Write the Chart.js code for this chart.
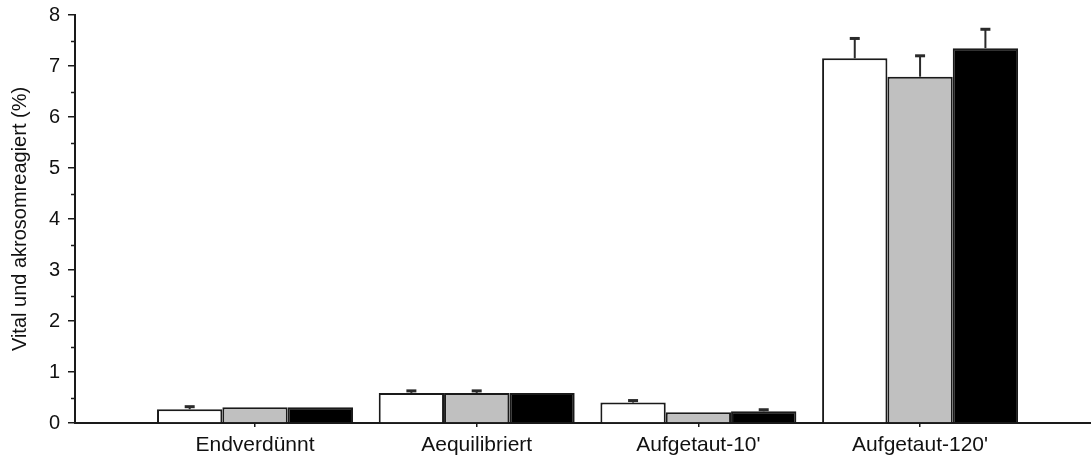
<!DOCTYPE html>
<html>
<head>
<meta charset="utf-8">
<script src="https://cdn.jsdelivr.net/npm/chart.js@4.4.1/dist/chart.umd.min.js"></script>
<style>
  html, body { margin: 0; padding: 0; background: #ffffff; }
  #wrap { width: 1091px; height: 459px; position: relative; }
</style>
</head>
<body>
<div id="wrap"><canvas id="chart"></canvas></div>
<script>
// Groups along the x axis
const categories = ["Endverdünnt", "Aequilibriert", "Aufgetaut-10'", "Aufgetaut-120'"];

// Mean values (%) per series and their upper error (SEM)
const whiteValues = [0.27, 0.59, 0.40, 7.15];
const whiteErrors = [0.05, 0.04, 0.04, 0.39];
const greyValues  = [0.31, 0.59, 0.21, 6.79];
const greyErrors  = [0, 0.04, 0, 0.41];
const blackValues = [0.31, 0.59, 0.23, 7.35];
const blackErrors = [0, 0, 0.03, 0.37];

// Y axis ticks: labelled majors and unlabelled minors
const yMajorTicks = [0, 1, 2, 3, 4, 5, 6, 7, 8];
const yMinorTicks = [0.5, 1.5, 2.5, 3.5, 4.5, 5.5, 6.5, 7.5];

const yTitle = "Vital und akrosomreagiert (%)";

const FONT = '"Liberation Sans", Arial, Helvetica, sans-serif';
const INK = '#1a1a1a';

function points(values) {
  return values.map((v, i) => ({ x: i + 1, y: v }));
}

// Upper error bars with caps, plus minor tick marks on the y axis
const errorBarPlugin = {
  id: 'errorBars',
  afterDatasetsDraw(chart) {
    const ctx = chart.ctx;
    const yScale = chart.scales.y;
    chart.data.datasets.forEach((ds, di) => {
      const meta = chart.getDatasetMeta(di);
      meta.data.forEach((bar, j) => {
        const v = ds.data[j].y;
        const e = ds.errors[j];
        if (!e) return;
        const top = yScale.getPixelForValue(v + e);
        const base = bar.y;
        ctx.save();
        ctx.strokeStyle = '#2a2a2a';
        ctx.lineWidth = 2;
        ctx.beginPath();
        ctx.moveTo(bar.x, base);
        ctx.lineTo(bar.x, top);
        ctx.stroke();
        ctx.lineWidth = 3;
        ctx.beginPath();
        ctx.moveTo(bar.x - 5, top);
        ctx.lineTo(bar.x + 5, top);
        ctx.stroke();
        ctx.restore();
      });
    });
  },
  afterDraw(chart) {
    const ctx = chart.ctx;
    const yScale = chart.scales.y;
    const x0 = chart.chartArea.left;
    ctx.save();
    ctx.strokeStyle = INK;
    ctx.lineWidth = 1.5;
    yMinorTicks.forEach(t => {
      const py = Math.round(yScale.getPixelForValue(t)) + 0.5;
      ctx.beginPath();
      ctx.moveTo(x0 - 4, py);
      ctx.lineTo(x0, py);
      ctx.stroke();
    });
    ctx.restore();
  }
};

new Chart(document.getElementById('chart'), {
  type: 'bar',
  data: {
    datasets: [
      { label: 'A', data: points(whiteValues), errors: whiteErrors, backgroundColor: '#ffffff', borderColor: INK, borderWidth: 2 },
      { label: 'B', data: points(greyValues),  errors: greyErrors,  backgroundColor: '#c0c0c0', borderColor: INK, borderWidth: 2 },
      { label: 'C', data: points(blackValues), errors: blackErrors, backgroundColor: '#000000', borderColor: INK, borderWidth: 2 }
    ]
  },
  options: {
    responsive: true,
    maintainAspectRatio: false,
    animation: false,
    events: [],
    layout: { padding: { top: 15, right: 0, bottom: 0, left: 0 } },
    datasets: {
      bar: { categoryPercentage: 0.884, barPercentage: 1.0, borderSkipped: 'bottom' }
    },
    plugins: {
      legend: { display: false },
      tooltip: { enabled: false }
    },
    scales: {
      x: {
        type: 'linear',
        offset: false,
        min: 0.188,
        max: 4.771,
        afterBuildTicks: (scale) => { scale.ticks = categories.map((c, i) => ({ value: i + 1 })); },
        afterFit: (scale) => { scale.height = 36; scale.paddingLeft = 0; scale.paddingRight = 0; },
        grid: { display: true, offset: false, drawOnChartArea: false, drawTicks: true, tickLength: 4, color: INK, lineWidth: 1.5 },
        border: { display: true, color: INK, width: 2 },
        ticks: {
          autoSkip: false,
          maxRotation: 0,
          padding: 6,
          color: '#111111',
          font: { family: FONT, size: 21 },
          callback: (v) => categories[Math.round(v) - 1]
        }
      },
      y: {
        min: 0,
        max: 8,
        afterBuildTicks: (scale) => { scale.ticks = yMajorTicks.map(v => ({ value: v })); },
        afterFit: (scale) => { scale.width = 75; scale.paddingTop = 0; scale.paddingBottom = 0; },
        grid: { display: true, drawOnChartArea: false, drawTicks: true, tickLength: 7, color: INK, lineWidth: 1.5 },
        border: { display: true, color: INK, width: 2 },
        ticks: {
          padding: 8,
          color: '#111111',
          font: { family: FONT, size: 20 },
          callback: (v) => String(v)
        },
        title: {
          display: true,
          text: yTitle,
          color: '#111111',
          font: { family: FONT, size: 20 },
          padding: { top: 8, bottom: 0 }
        }
      }
    }
  },
  plugins: [errorBarPlugin]
});
</script>
</body>
</html>
